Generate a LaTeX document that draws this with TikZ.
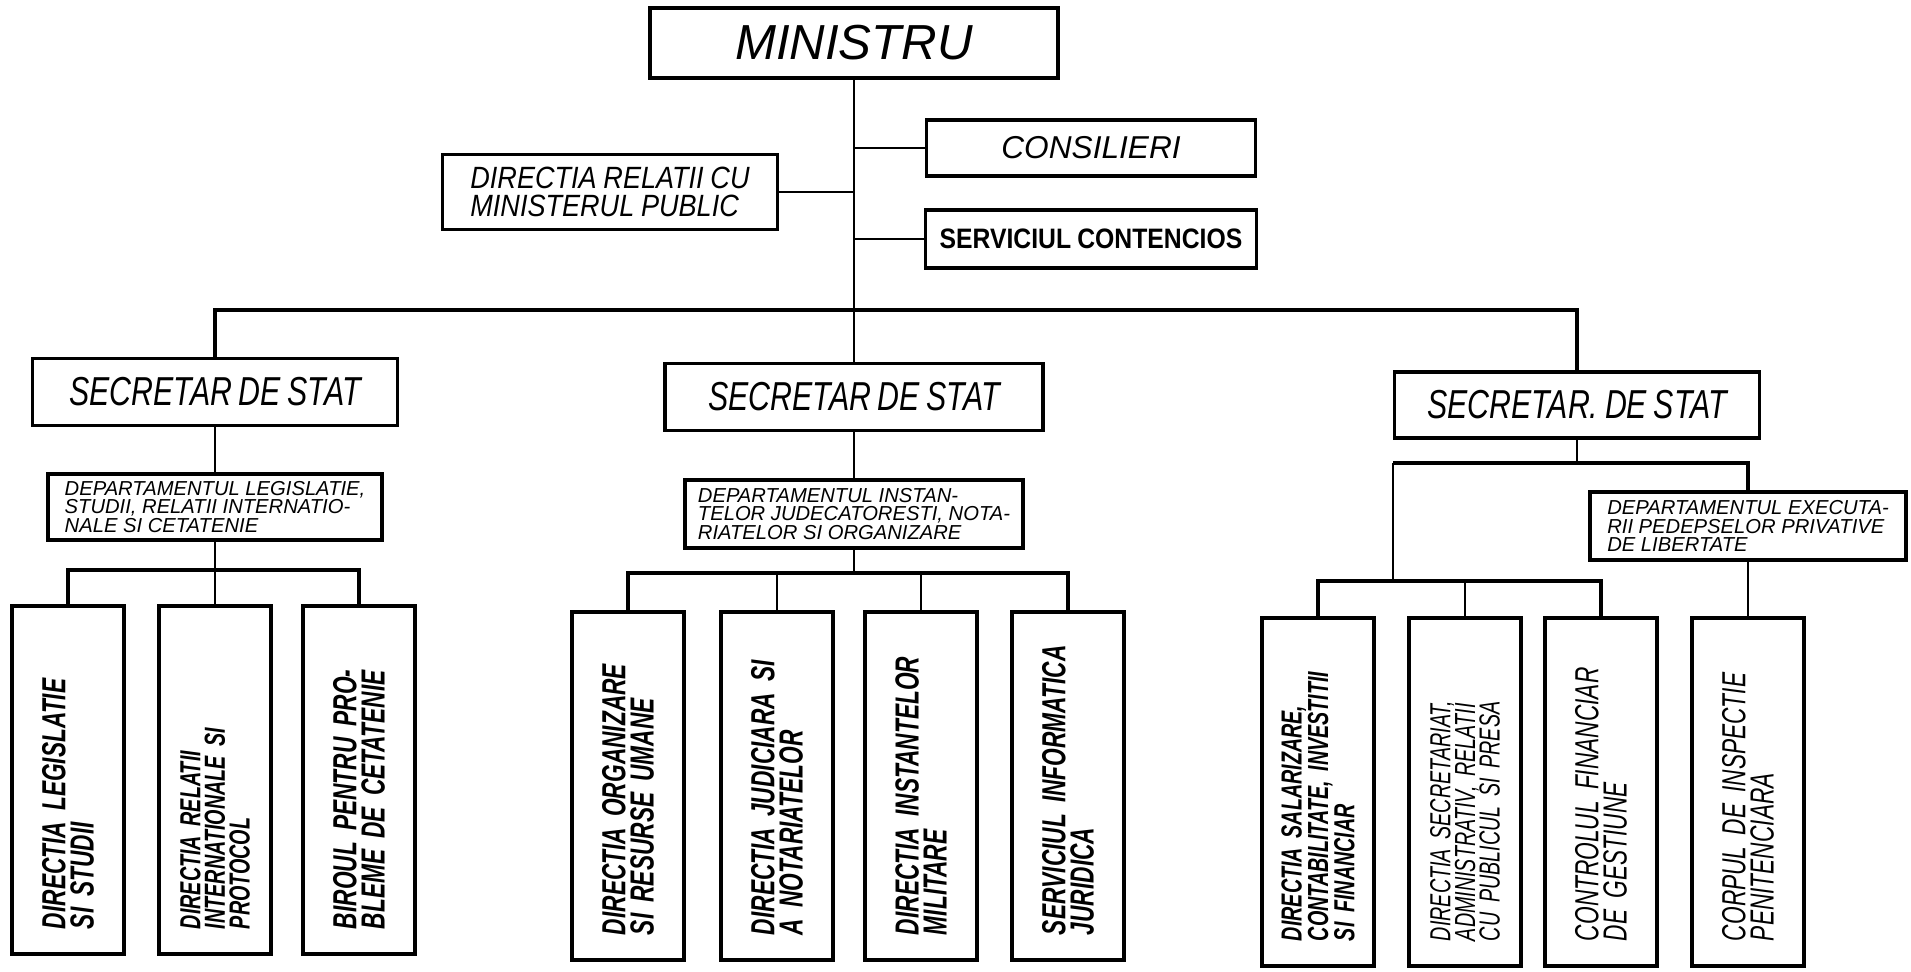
\documentclass[tikz,border=0pt]{standalone}
\usepackage{fontspec}
\setmainfont{Liberation Sans}
\newfontfamily\narrowfont{Liberation Sans}[FakeStretch=0.75, WordSpace=0.8]
\newfontfamily\semifont{Liberation Sans}[FakeStretch=0.88, WordSpace=0.9]
\newfontfamily\tallfont{Liberation Sans}[FakeStretch=0.68, WordSpace=0.7]
\usepackage{tikz}

\begin{document}
\begin{tikzpicture}[x=0.2mm, y=-0.2mm,
        box/.style={draw, line width=1.8pt, inner sep=4pt, align=center},
        dept/.style={box, align=left, font=\itshape\fontsize{11.5}{10.5}\selectfont},
        head/.style={box, minimum width=7.3cm, minimum height=1.34cm, font=\narrowfont\itshape\fontsize{23}{26}\selectfont},
        vbox/.style={draw, line width=1.8pt, rotate=90, minimum width=6.96cm, minimum height=2.24cm,
            inner xsep=0.5cm, text width=5.96cm, align=left, font=\tallfont\bfseries\itshape\fontsize{19}{16}\selectfont},
        small/.style={font=\tallfont\bfseries\itshape\fontsize{16.5}{14}\selectfont},
        link/.style={line width=1.2pt},
        bus/.style={line width=2pt}]
        \useasboundingbox (0,0) rectangle (1911,971);

        % top of the chart
        \node[box, minimum width=8.16cm, minimum height=1.4cm, font=\itshape\fontsize{28}{30}\selectfont] (min) at (854,43) {MINISTRU};
        \node[box, minimum width=6.58cm, minimum height=1.12cm, font=\itshape\fontsize{18}{20}\selectfont] (cons) at (1091,148) {CONSILIERI};
        \node[box, minimum width=6.62cm, minimum height=1.16cm, font=\semifont\bfseries\fontsize{16}{18}\selectfont] (serv) at (1091,239) {SERVICIUL CONTENCIOS};
        \node[box, align=left, minimum width=6.7cm, minimum height=1.5cm, font=\semifont\itshape\fontsize{17.5}{16}\selectfont] (rel) at (610,192) {DIRECTIA RELATII CU\\MINISTERUL PUBLIC};

        \node[head] (ss1) at (215,392) {SECRETAR DE STAT};
        \node[head, minimum width=7.56cm] (ss2) at (854,397) {SECRETAR DE STAT};
        \node[head, minimum height=1.32cm] (ss3) at (1577,405) {SECRETAR. DE STAT};

        \node[dept, minimum width=6.68cm, minimum height=1.32cm] (dept1) at (215,507) {DEPARTAMENTUL LEGISLATIE,\\STUDII, RELATII INTERNATIO-\\NALE SI CETATENIE};
        \node[dept, minimum width=6.76cm, minimum height=1.36cm] (dept2) at (854,514) {DEPARTAMENTUL INSTAN-\\TELOR JUDECATORESTI, NOTA-\\RIATELOR SI ORGANIZARE};
        \node[dept, minimum width=6.32cm, minimum height=1.36cm] (dept3) at (1748,526) {DEPARTAMENTUL EXECUTA-\\RII PEDEPSELOR PRIVATIVE\\DE LIBERTATE};

        % directii
        \node[vbox] (g1a) at (68,780) {DIRECTIA LEGISLATIE\\SI STUDII};
        \node[vbox, small] (g1b) at (215,780) {DIRECTIA RELATII\\INTERNATIONALE SI\\PROTOCOL};
        \node[vbox] (g1c) at (359,780) {BIROUL PENTRU PRO-\\BLEME DE CETATENIE};

        \node[vbox] (g2a) at (628,786) {DIRECTIA ORGANIZARE\\SI RESURSE UMANE};
        \node[vbox] (g2b) at (777,786) {DIRECTIA JUDICIARA SI\\A NOTARIATELOR};
        \node[vbox] (g2c) at (921,786) {DIRECTIA INSTANTELOR\\MILITARE};
        \node[vbox] (g2d) at (1068,786) {SERVICIUL INFORMATICA\\JURIDICA};

        \node[vbox, small] (g3a) at (1318,792) {DIRECTIA SALARIZARE,\\CONTABILITATE, INVESTITII\\SI FINANCIAR};
        \node[vbox, font=\tallfont\itshape\fontsize{16.5}{14}\selectfont] (g3b) at (1465,792) {DIRECTIA SECRETARIAT,\\ADMINISTRATIV, RELATII\\CU PUBLICUL SI PRESA};
        \node[vbox, font=\tallfont\itshape\fontsize{19}{16}\selectfont] (g3c) at (1601,792) {CONTROLUL FINANCIAR\\DE GESTIUNE};
        \node[vbox, font=\tallfont\itshape\fontsize{19}{16}\selectfont] (g3d) at (1748,792) {CORPUL DE INSPECTIE\\PENITENCIARA};

        % lines
        \coordinate (busl) at (215,310);
        \coordinate (busr) at (1577,310);
        \coordinate (sub1) at (215,570);
        \coordinate (sub2) at (854,573);
        \coordinate (br3) at (1393,463);
        \coordinate (sub3) at (1393,581);

        \draw[link] (min.south) -- (ss2.north);
        \draw[link] (rel.east) -- (rel.east -| min.south);
        \draw[link] (cons.west) -- (cons.west -| min.south);
        \draw[link] (serv.west) -- (serv.west -| min.south);
        \draw[bus] (ss1.north) -- (busl) -- (busr) -- (ss3.north);

        \draw[link] (ss1.south) -- (dept1.north);
        \draw[link] (dept1.south) -- (g1b.east);
        \draw[bus] (g1a.east) -- (g1a.east |- sub1) -- (g1c.east |- sub1) -- (g1c.east);

        \draw[link] (ss2.south) -- (dept2.north);
        \draw[link] (dept2.south) -- (sub2);
        \draw[bus] (g2a.east) -- (g2a.east |- sub2) -- (g2d.east |- sub2) -- (g2d.east);
        \draw[link] (g2b.east) -- (g2b.east |- sub2);
        \draw[link] (g2c.east) -- (g2c.east |- sub2);

        \draw[link] (ss3.south) -- (ss3.south |- br3);
        \draw[bus] (br3) -- (br3 -| dept3.north) -- (dept3.north);
        \draw[link] (br3) -- (sub3);
        \draw[bus] (g3a.east) -- (g3a.east |- sub3) -- (g3c.east |- sub3) -- (g3c.east);
        \draw[link] (g3b.east) -- (g3b.east |- sub3);
        \draw[link] (dept3.south) -- (g3d.east);
    \end{tikzpicture}
\end{document}
